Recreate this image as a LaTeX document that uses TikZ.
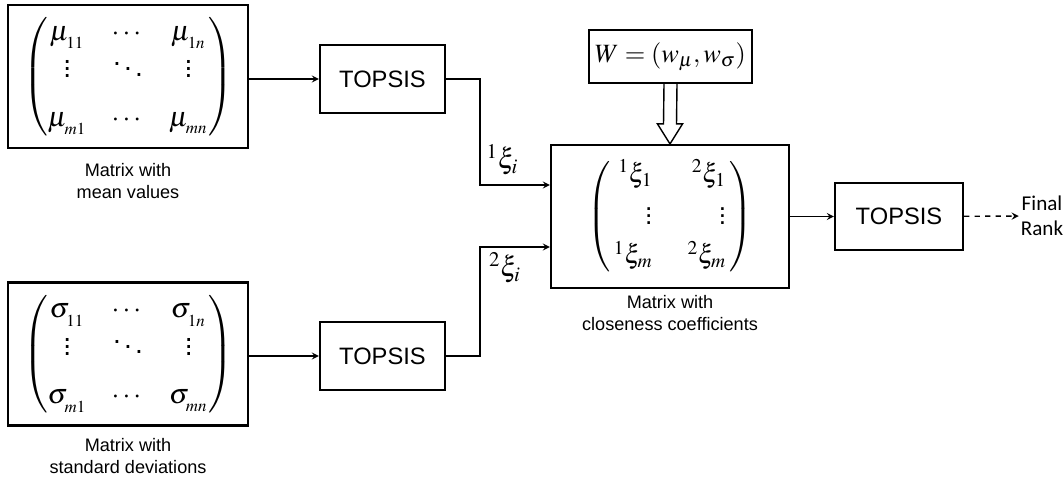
\documentclass[tikz,border=0pt]{standalone}
\usepackage{amsmath}
\usepackage{mathptmx}
\usepackage{fontspec}
\setmainfont{Liberation Sans}
\newfontfamily\calibri{Carlito}
\usetikzlibrary{calc}

\begin{document}
\begin{tikzpicture}[
    box/.style={draw, line width=1.2pt, minimum width=2.5cm, minimum height=1.36cm, font=\fontsize{13.5}{16}\selectfont},
    matbox/.style={draw, line width=1.2pt, minimum width=4.8cm, minimum height=2.86cm, inner sep=0pt, font=\fontsize{16}{19}\selectfont},
    caption/.style={align=center, font=\fontsize{10.3}{12.5}\selectfont},
    arrow/.style={->, >=stealth, line width=0.8pt},
    xilabel/.style={font=\fontsize{16}{18}\selectfont}
]
\useasboundingbox (0,0) rectangle (21.28,-9.7);

% Input matrices
\node[matbox] (meanmat) at (2.56,-1.53) {$\setlength\arraycolsep{7pt}\begin{pmatrix} \mu_{_{11}} & \cdots & \mu_{_{1n}}\\ \vdots & \ddots & \vdots\\[3mm] \mu_{_{m1}} & \cdots & \mu_{_{mn}}\end{pmatrix}$};
\node[caption] (meancap) at (2.56,-3.62) {Matrix with\\mean values};

\node[matbox] (sdmat) at (2.56,-7.08) {$\setlength\arraycolsep{7pt}\begin{pmatrix} \sigma_{_{11}} & \cdots & \sigma_{_{1n}}\\ \vdots & \ddots & \vdots\\[3mm] \sigma_{_{m1}} & \cdots & \sigma_{_{mn}}\end{pmatrix}$};
\node[caption] (sdcap) at (2.56,-9.12) {Matrix with\\standard deviations};

% First TOPSIS step
\node[box] (topsis1) at (7.65,-1.58) {TOPSIS};
\node[box] (topsis2) at (7.65,-7.12) {TOPSIS};
\draw[arrow] (meanmat.east |- topsis1) -- (topsis1);
\draw[arrow] (sdmat.east |- topsis2) -- (topsis2);

% Closeness coefficients
\node[matbox, minimum width=4.76cm, font=\fontsize{15}{18}\selectfont] (closemat) at (13.4,-4.33) {$\left(\begin{array}{@{\,}r@{\hspace{7mm}}r@{\,}} {}^{1}\xi_{1} & {}^{2}\xi_{1}\\[1mm] \vdots & \vdots\\[1.5mm] {}^{1}\xi_{m} & {}^{2}\xi_{m}\end{array}\right)$};
\node[caption] (closecap) at (13.4,-6.26) {Matrix with\\closeness coefficients};
\coordinate (in1) at ($(closemat.west)+(0,0.63)$);
\coordinate (in2) at ($(closemat.west)+(0,-0.61)$);
\draw[arrow] (topsis1.east) -- ++(0.68,0) |- (in1);
\draw[arrow] (topsis2.east) -- ++(0.68,0) |- (in2);
\node[xilabel] (xi1) at (10.05,-3.2) {${}^{1}\xi_{i}$};
\node[xilabel] (xi2) at (10.1,-5.36) {${}^{2}\xi_{i}$};

% Weights
\node[draw, line width=1.2pt, minimum width=2.82cm, minimum height=1.06cm, font=\fontsize{15}{18}\selectfont] (weights) at (13.41,-1.13) {$W=(w_{\mu},w_{\sigma})$};
\draw[line width=0.8pt, fill=white] ($(weights.south)+(-0.13,0)$) -- ($(closemat.north)+(-0.13,0.4)$) -- ($(closemat.north)+(-0.25,0.4)$) -- (closemat.north) -- ($(closemat.north)+(0.25,0.4)$) -- ($(closemat.north)+(0.13,0.4)$) -- ($(weights.south)+(0.13,0)$);

% Final TOPSIS
\node[box, minimum width=2.56cm, minimum height=1.34cm] (topsis3) at (17.98,-4.33) {TOPSIS};
\draw[arrow] (closemat) -- (topsis3);
\node[align=center, inner sep=1pt, font=\calibri\fontsize{12}{14}\selectfont] (rank) at (20.84,-4.32) {Final\\Rank};
\draw[arrow, dashed] (topsis3) -- (rank);
\end{tikzpicture}
\end{document}
